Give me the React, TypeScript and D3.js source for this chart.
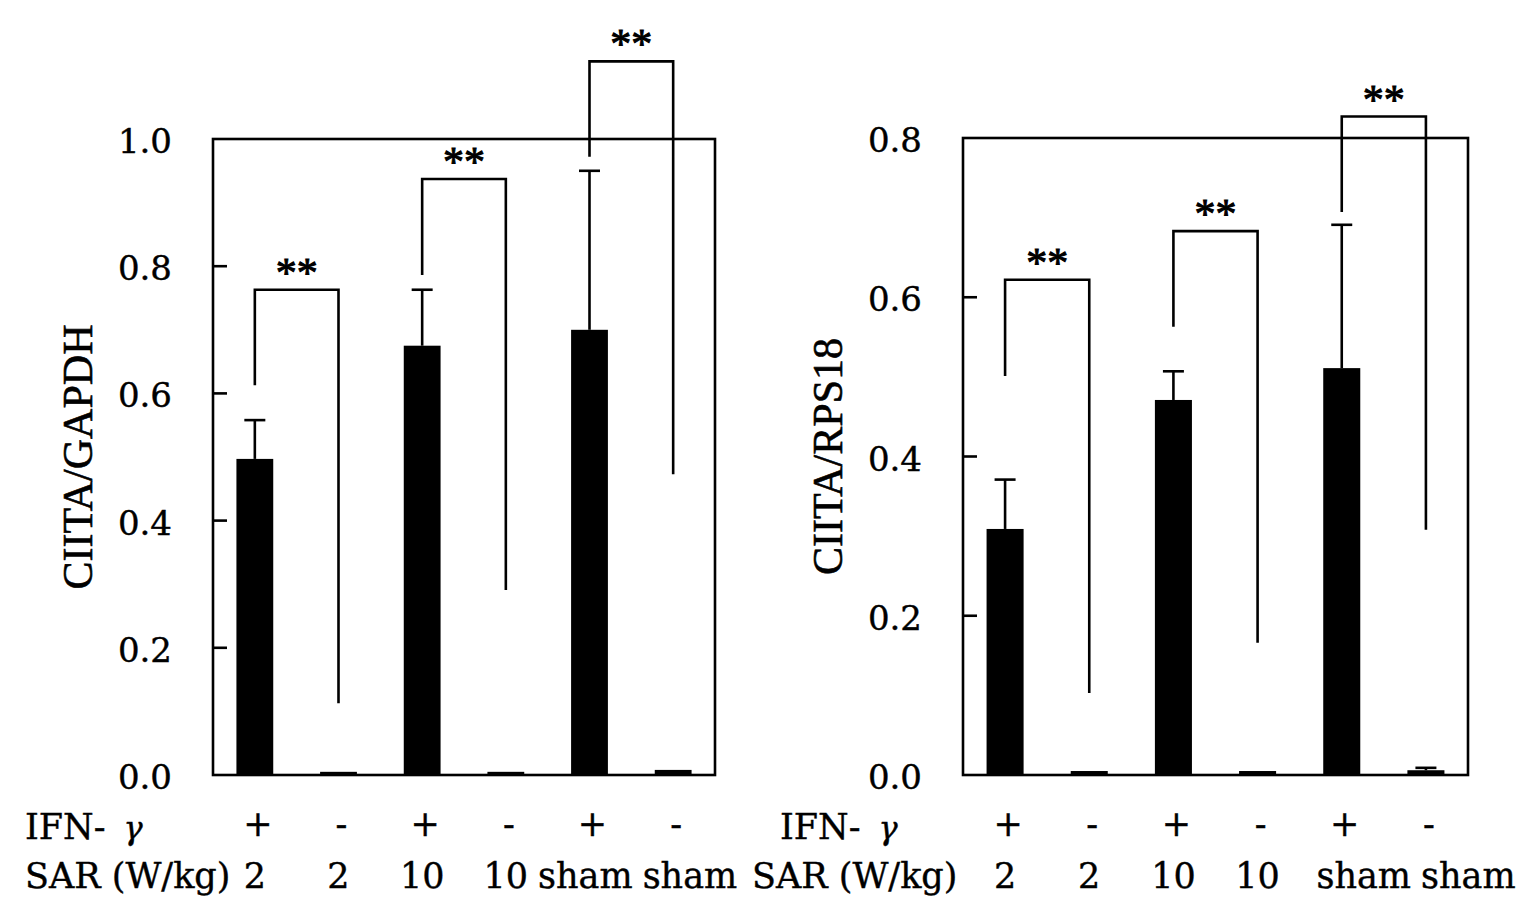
import React from "react";
import * as d3 from "d3";

// ---------- data ----------
const ifnLabels = ["+", "-", "+", "-", "+", "-"];
const sarLabels = ["2", "2", "10", "10", "sham", "sham"];

const gapdhMeans = [0.497, 0.005, 0.675, 0.005, 0.7, 0.008];
const gapdhErrors = [0.061, 0, 0.088, 0, 0.25, 0];
const gapdhTicks = [0, 0.2, 0.4, 0.6, 0.8, 1.0];
// brackets: [fromIndex, toIndex, bracketTop, leftLegEnd, rightLegEnd]
const gapdhBrackets = [
  [0, 1, 0.763, 0.613, 0.113],
  [2, 3, 0.937, 0.786, 0.291],
  [4, 5, 1.122, 0.972, 0.473],
];

const rps18Means = [0.309, 0.005, 0.471, 0.005, 0.511, 0.006];
const rps18Errors = [0.062, 0, 0.036, 0, 0.18, 0.003];
const rps18Ticks = [0, 0.2, 0.4, 0.6, 0.8];
const rps18Brackets = [
  [0, 1, 0.622, 0.501, 0.103],
  [2, 3, 0.683, 0.563, 0.166],
  [4, 5, 0.827, 0.707, 0.308],
];

const W = 1519;
const H = 917;
const NUM_FONT = "'DejaVu Serif', serif";
const TITLE_FONT = "'Liberation Serif', 'Times New Roman', serif";

function measure(text: string, font: string): number {
  const c = document.createElement("canvas");
  const ctx = c.getContext("2d");
  if (!ctx) return text.length * 18;
  ctx.font = font;
  return ctx.measureText(text).width;
}

type PanelCfg = {
  x0: number;
  x1: number;
  yTop: number;
  yMax: number;
  means: number[];
  errors: number[];
  ticks: number[];
  brackets: number[][];
  title: string;
  titleX: number;
  ifnX: number;
  sarX: number;
  sarShift: number;
};

function Panel({ p }: { p: PanelCfg }) {
  const n = p.means.length;
  const x = d3
    .scaleBand<number>()
    .domain(d3.range(n))
    .range([p.x0, p.x1])
    .paddingInner(0.56)
    .paddingOuter(0.28);
  const y = d3.scaleLinear().domain([0, p.yMax]).range([775, p.yTop]);
  const bw = x.bandwidth();
  const cx = (i: number) => (x(i) as number) + bw / 2;
  const y0 = y(0);
  const sw = 2.6;
  const LS = 35;

  // SAR value labels: centered on bands, pushed right if they collide
  const labelFont = `${LS}px ${NUM_FONT}`;
  const sarPos: number[] = [];
  let prevRight = -Infinity;
  sarLabels.forEach((t, i) => {
    const w = measure(t, labelFont);
    let c = cx(i) + (t.length > 2 ? p.sarShift : 0);
    if (c - w / 2 < prevRight + 10) c = prevRight + 10 + w / 2;
    sarPos.push(c);
    prevRight = c + w / 2;
  });

  const textStyle = { stroke: "#000", strokeWidth: 0.4 };

  return (
    <g>
      {/* bars */}
      {p.means.map((m, i) => (
        <rect
          key={"b" + i}
          x={x(i)}
          y={y(m)}
          width={bw}
          height={y0 - y(m)}
          fill="#000"
        />
      ))}
      {/* error bars */}
      {p.errors.map((e, i) =>
        e > 0 ? (
          <g key={"e" + i} stroke="#000" strokeWidth={sw}>
            <line x1={cx(i)} x2={cx(i)} y1={y(p.means[i])} y2={y(p.means[i] + e)} />
            <line
              x1={cx(i) - 10.5}
              x2={cx(i) + 10.5}
              y1={y(p.means[i] + e)}
              y2={y(p.means[i] + e)}
            />
          </g>
        ) : null
      )}
      {/* frame */}
      <rect
        x={p.x0}
        y={p.yTop}
        width={p.x1 - p.x0}
        height={y0 - p.yTop}
        fill="none"
        stroke="#000"
        strokeWidth={sw}
      />
      {/* ticks (inward) and labels */}
      {p.ticks.map((t) => (
        <g key={"t" + t}>
          {t > 0 && t < p.yMax ? (
            <line x1={p.x0} x2={p.x0 + 14} y1={y(t)} y2={y(t)} stroke="#000" strokeWidth={sw} />
          ) : null}
          <text
            x={p.x0 - 41}
            y={y(t) + 2}
            textAnchor="end"
            dominantBaseline="central"
            fontFamily={NUM_FONT}
            fontSize={34}
            style={textStyle}
          >
            {t.toFixed(1)}
          </text>
        </g>
      ))}
      {/* significance brackets */}
      {p.brackets.map((b, k) => {
        const [a, c, top, le, re] = b;
        const xl = cx(a);
        const xr = cx(c);
        return (
          <g key={"s" + k}>
            <path
              d={`M${xl},${y(le)}V${y(top)}H${xr}V${y(re)}`}
              fill="none"
              stroke="#000"
              strokeWidth={sw}
            />
            <text
              x={(xl + xr) / 2}
              y={y(top) - 3}
              textAnchor="middle"
              fontFamily={TITLE_FONT}
              fontSize={42}
              style={{ stroke: "#000", strokeWidth: 1 }}
            >
              **
            </text>
          </g>
        );
      })}
      {/* y title */}
      <text
        transform={`translate(${p.titleX},${(p.yTop + y0) / 2}) rotate(-90)`}
        textAnchor="middle"
        dominantBaseline="central"
        fontFamily={TITLE_FONT}
        fontSize={42}
        style={{ stroke: "#000", strokeWidth: 0.6 }}
      >
        {p.title}
      </text>
      {/* bottom rows */}
      <text x={p.ifnX} y={839} fontFamily={NUM_FONT} fontSize={LS} style={textStyle}>
        IFN-
        <tspan dx={18} fontStyle="italic" fontSize={32}>
          γ
        </tspan>
      </text>
      {ifnLabels.map((t, i) => (
        <text
          key={"i" + i}
          x={cx(i) + 3}
          y={836}
          textAnchor="middle"
          fontFamily={NUM_FONT}
          fontSize={LS}
          style={textStyle}
        >
          {t}
        </text>
      ))}
      <text x={p.sarX} y={888} fontFamily={NUM_FONT} fontSize={LS} style={textStyle}>
        SAR (W/kg)
      </text>
      {sarLabels.map((t, i) => (
        <text
          key={"v" + i}
          x={sarPos[i]}
          y={888}
          textAnchor="middle"
          fontFamily={NUM_FONT}
          fontSize={LS}
          style={textStyle}
        >
          {t}
        </text>
      ))}
    </g>
  );
}

export default function App() {
  const left: PanelCfg = {
    x0: 213,
    x1: 715,
    yTop: 139,
    yMax: 1.0,
    means: gapdhMeans,
    errors: gapdhErrors,
    ticks: gapdhTicks,
    brackets: gapdhBrackets,
    title: "CIITA/GAPDH",
    titleX: 78,
    ifnX: 25,
    sarX: 25,
    sarShift: -10,
  };
  const right: PanelCfg = {
    x0: 963,
    x1: 1468,
    yTop: 138,
    yMax: 0.8,
    means: rps18Means,
    errors: rps18Errors,
    ticks: rps18Ticks,
    brackets: rps18Brackets,
    title: "CIITA/RPS18",
    titleX: 828,
    ifnX: 780,
    sarX: 752,
    sarShift: 22,
  };
  return (
    <svg
      width={W}
      height={H}
      viewBox={`0 0 ${W} ${H}`}
      style={{ position: "absolute", left: 0, top: 0, background: "#fff" }}
    >
      <rect x={0} y={0} width={W} height={H} fill="#fff" />
      <Panel p={left} />
      <Panel p={right} />
    </svg>
  );
}
